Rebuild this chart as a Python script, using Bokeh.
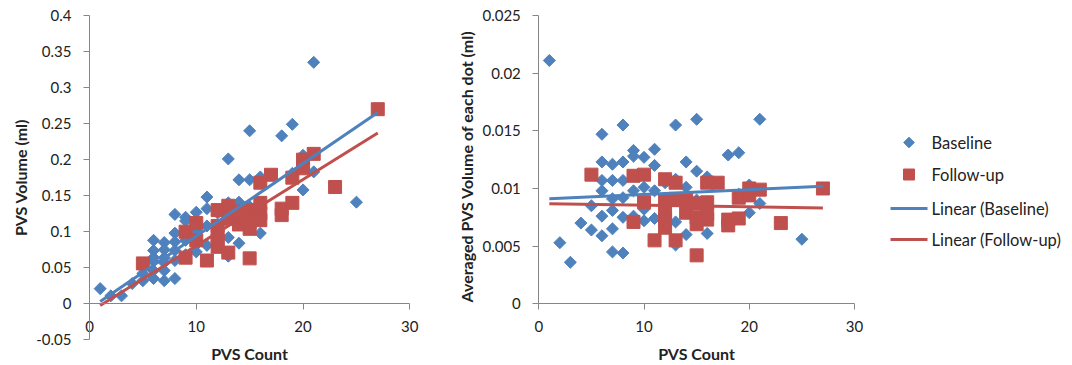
import math
from bokeh.plotting import figure
from bokeh.layouts import row
from bokeh.models import Range1d, FixedTicker, CustomJSTickFormatter, Label
from bokeh.core.properties import value
from bokeh.embed import file_html
from bokeh.resources import INLINE

# ---------------- data ----------------
series_names = ["Baseline", "Follow-up"]
trend_names = ["Linear (Baseline)", "Linear (Follow-up)"]

baseline_count = [1, 2, 3, 4, 5, 5,
                  6, 6, 6, 6, 6, 6,
                  7, 7, 7, 7, 7, 7,
                  8, 8, 8, 8, 8, 8,
                  9, 9, 9, 9,
                  10, 10, 10, 10,
                  11, 11, 11, 11,
                  12, 12, 12,
                  13, 13, 13, 13,
                  14, 14, 14,
                  15, 15, 15,
                  16, 16,
                  18,
                  19, 19,
                  20, 20,
                  21, 21,
                  25]
baseline_volume = [0.021, 0.011, 0.011, 0.028, 0.042, 0.032,
                   0.088, 0.074, 0.064, 0.059, 0.046, 0.035,
                   0.085, 0.075, 0.064, 0.057, 0.046, 0.032,
                   0.124, 0.098, 0.086, 0.074, 0.060, 0.035,
                   0.120, 0.115, 0.088, 0.068,
                   0.127, 0.101, 0.082, 0.072,
                   0.148, 0.132, 0.108, 0.081,
                   0.126, 0.108, 0.096,
                   0.201, 0.140, 0.092, 0.066,
                   0.172, 0.141, 0.084,
                   0.240, 0.172, 0.135,
                   0.176, 0.098,
                   0.233,
                   0.249, 0.181,
                   0.206, 0.158,
                   0.335, 0.183,
                   0.141]
baseline_avg = [0.0211, 0.0053, 0.0036, 0.0070, 0.0085, 0.0064,
                0.0147, 0.0123, 0.0107, 0.0098, 0.0076, 0.0059,
                0.0121, 0.0107, 0.0091, 0.0081, 0.0065, 0.0045,
                0.0155, 0.0123, 0.0107, 0.0092, 0.0075, 0.0044,
                0.0133, 0.0128, 0.0098, 0.0076,
                0.0127, 0.0101, 0.0082, 0.0072,
                0.0134, 0.0120, 0.0098, 0.0074,
                0.0105, 0.0090, 0.0080,
                0.0155, 0.0108, 0.0071, 0.0051,
                0.0123, 0.0101, 0.0060,
                0.0160, 0.0115, 0.0090,
                0.0110, 0.0061,
                0.0129,
                0.0131, 0.0095,
                0.0103, 0.0079,
                0.0160, 0.0087,
                0.0056]

followup_count = [5, 9, 9, 10, 10, 11,
                  12, 12, 12, 12, 12,
                  13, 13, 13,
                  14, 14,
                  15, 15, 15, 15,
                  16, 16, 16, 16,
                  17,
                  18, 18,
                  19, 19,
                  20, 20,
                  21, 23, 27]
followup_volume = [0.056, 0.100, 0.064, 0.112, 0.088, 0.060,
                   0.130, 0.108, 0.097, 0.088, 0.079,
                   0.136, 0.118, 0.071,
                   0.128, 0.110,
                   0.130, 0.113, 0.104, 0.063,
                   0.168, 0.140, 0.125, 0.116,
                   0.179,
                   0.132, 0.123,
                   0.175, 0.140,
                   0.200, 0.188,
                   0.208, 0.162, 0.270]
followup_avg = [0.0112, 0.0111, 0.0071, 0.0112, 0.0088, 0.0055,
                0.0108, 0.0090, 0.0081, 0.0073, 0.0066,
                0.0105, 0.0091, 0.0055,
                0.0091, 0.0079,
                0.0087, 0.0075, 0.0069, 0.0042,
                0.0105, 0.0088, 0.0078, 0.0073,
                0.0105,
                0.0073, 0.0068,
                0.0092, 0.0074,
                0.0100, 0.0094,
                0.0099, 0.0070, 0.0100]

# linear trendlines (slope, intercept) as shown on the chart
trend_volume_baseline = [0.01008, -0.0069]
trend_volume_followup = [0.0092, -0.0115]
trend_avg_baseline = [0.0000423, 0.00906]
trend_avg_followup = [-0.0000135, 0.00868]
trend_count_span = [1, 27]

x_ticks = [0, 10, 20, 30]
left_y_ticks = [-0.05, 0, 0.05, 0.1, 0.15, 0.2, 0.25, 0.3, 0.35, 0.4]
right_y_ticks = [0, 0.005, 0.01, 0.015, 0.02, 0.025]
x_bounds = (0, 30)
left_y_bounds = (-0.05, 0.4)
right_y_bounds = (0, 0.025)

left_xlabel = "PVS Count"
left_ylabel = "PVS Volume (ml)"
right_xlabel = "PVS Count"
right_ylabel = "Averaged PVS Volume of each dot (ml)"

# ---------------- layout (pixels) ----------------
H = 364
W1, W2, W3 = 440, 430, 202
# plot-area corners of each panel, in each figure's own pixels (x from left, y from top)
P1 = dict(x0=89.0, x1=409.3, ytop=15.0, ybot=339.3)    # x 0..30, y 0.4..-0.05
P2 = dict(x0=98.3, x1=414.0, ytop=15.0, ybot=303.3)    # x 0..30, y 0.025..0

FONT = "Lato"
BLUE = "#4F81BD"
RED = "#C0504D"
AXIS_COLOR = "#868686"
TEXT_COLOR = "#222222"

fmt_code = "return String(parseFloat(tick.toFixed(4)));"


def mapper(v0, p0, v1, p1):
    k = (v1 - v0) / (p1 - p0)
    return lambda px: v0 + (px - p0) * k


def make_panel(W, box, xb, yb, yticks):
    fx = mapper(xb[0], box["x0"], xb[1], box["x1"])
    fy = mapper(yb[1], box["ytop"], yb[0], box["ybot"])
    p = figure(width=W, height=H,
               x_range=Range1d(fx(0), fx(W)), y_range=Range1d(fy(H), fy(0)),
               output_backend="svg", toolbar_location=None,
               min_border_left=0, min_border_right=0,
               min_border_top=0, min_border_bottom=0)
    p.outline_line_color = None
    p.xgrid.visible = False
    p.ygrid.visible = False
    p.background_fill_color = "white"
    p.border_fill_color = "white"
    p.xaxis.ticker = FixedTicker(ticks=x_ticks)
    p.yaxis.ticker = FixedTicker(ticks=yticks)
    p.xaxis.bounds = xb
    p.yaxis.bounds = yb
    p.xaxis.fixed_location = 0
    p.yaxis.fixed_location = 0
    for ax in p.axis:
        ax.formatter = CustomJSTickFormatter(code=fmt_code)
        ax.axis_line_color = AXIS_COLOR
        ax.axis_line_width = 1
        ax.major_tick_line_color = AXIS_COLOR
        ax.minor_tick_line_color = None
        ax.major_tick_in = 0
        ax.major_tick_out = 6
        ax.major_label_text_font = FONT
        ax.major_label_text_font_size = "15px"
        ax.major_label_text_color = TEXT_COLOR
    p.yaxis.major_label_standoff = 12
    p.xaxis.major_label_standoff = 11
    return p, fx, fy


def title_label(p, fx, fy, px, py, text, angle=0.0):
    p.add_layout(Label(x=fx(px), y=fy(py), text=text, angle=angle,
                       text_align="center", text_baseline="middle",
                       text_font=FONT, text_font_size="16px",
                       text_font_style="bold", text_color=TEXT_COLOR))


def trend_y(coef):
    return [coef[0] * x + coef[1] for x in trend_count_span]


# ---------------- left panel ----------------
p1, fx1, fy1 = make_panel(W1, P1, x_bounds, left_y_bounds, left_y_ticks)
title_label(p1, fx1, fy1, 249, 353, left_xlabel)
title_label(p1, fx1, fy1, 20, 177, left_ylabel, angle=math.pi / 2)

p1.scatter(baseline_count, baseline_volume, marker="square", angle=math.pi / 4,
           size=8.5, fill_color=BLUE, line_color=BLUE)
p1.scatter(followup_count, followup_volume, marker="square",
           size=13, fill_color=RED, line_color=RED)
p1.line(trend_count_span, trend_y(trend_volume_baseline), line_color=BLUE, line_width=3)
p1.line(trend_count_span, trend_y(trend_volume_followup), line_color=RED, line_width=3)

# ---------------- right panel ----------------
p2, fx2, fy2 = make_panel(W2, P2, x_bounds, right_y_bounds, right_y_ticks)
title_label(p2, fx2, fy2, 256, 353, right_xlabel)
title_label(p2, fx2, fy2, 26, 166, right_ylabel, angle=math.pi / 2)

p2.scatter(baseline_count, baseline_avg, marker="square", angle=math.pi / 4,
           size=8.5, fill_color=BLUE, line_color=BLUE)
p2.scatter(followup_count, followup_avg, marker="square",
           size=13, fill_color=RED, line_color=RED)
p2.line(trend_count_span, trend_y(trend_avg_baseline), line_color=BLUE, line_width=3)
p2.line(trend_count_span, trend_y(trend_avg_followup), line_color=RED, line_width=3)

# ---------------- legend panel (pixel layout, y downwards) ----------------
p3 = figure(width=W3, height=H, x_range=Range1d(0, W3), y_range=Range1d(H, 0),
            x_axis_type=None, y_axis_type=None,
            output_backend="svg", toolbar_location=None,
            min_border_left=0, min_border_right=0, min_border_top=0, min_border_bottom=0)
p3.grid.visible = False
p3.outline_line_color = None
p3.background_fill_color = "white"
p3.border_fill_color = "white"

leg_rows = [142, 174, 208, 239]
leg_glyph_x = [20, 57]
leg_label_x = 61
p3.scatter([sum(leg_glyph_x) / 2], [leg_rows[0]], marker="square", angle=math.pi / 4,
           size=7.5, fill_color=BLUE, line_color=BLUE)
p3.scatter([sum(leg_glyph_x) / 2], [leg_rows[1]], marker="square",
           size=11, fill_color=RED, line_color=RED)
p3.line(leg_glyph_x, [leg_rows[2]] * 2, line_color=BLUE, line_width=3)
p3.line(leg_glyph_x, [leg_rows[3]] * 2, line_color=RED, line_width=3)
p3.text([leg_label_x] * 4, leg_rows, text=series_names + trend_names,
        text_font=value(FONT), text_font_size="16.5px", text_color=TEXT_COLOR,
        text_baseline="middle", text_align="left")

layout = row(p1, p2, p3)
open("out.html", "w").write(file_html(layout, INLINE))
